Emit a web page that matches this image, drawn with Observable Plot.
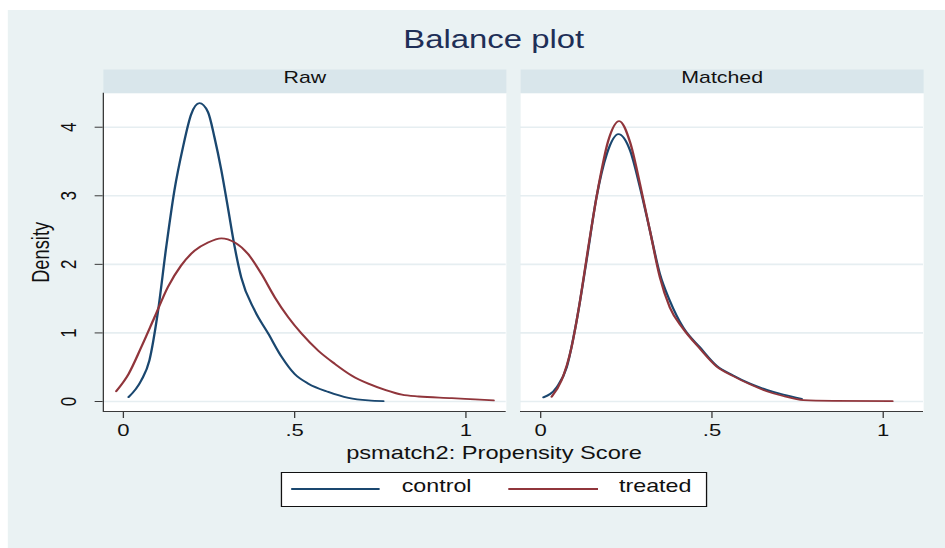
<!DOCTYPE html>
<html>
<head>
<meta charset="utf-8">
<script src="https://cdn.jsdelivr.net/npm/d3@7"></script>
<script src="https://cdn.jsdelivr.net/npm/@observablehq/plot@0.6"></script>
<style>
  html, body { margin: 0; padding: 0; background: #ffffff; overflow: hidden; }
  body { width: 945px; height: 548px; position: relative; font-family: "Liberation Sans", Arial, Helvetica, sans-serif; }
  #fig { position: absolute; left: 0; top: 0; width: 727px; height: 548px; transform: scaleX(1.3); transform-origin: 0 0; }
  #bg { position: absolute; left: 6.2px; top: 10px; right: 0; bottom: 0; background: #EAF2F3; }
  #title { position: absolute; left: 179.8px; width: 400px; top: 26.9px; text-align: center; font-size: 25.3px; line-height: 25.3px; color: #1E2F57; white-space: nowrap; }
  #chart { position: absolute; left: 0; top: 60px; }
  #xtitle { position: absolute; left: 180px; width: 400px; top: 444.1px; text-align: center; font-size: 18.2px; line-height: 18.2px; color: #111; white-space: nowrap; }
  #legend { position: absolute; left: 215.9px; top: 472.3px; width: 326.2px; height: 32.4px; border: 1px solid #111; background: #ffffff; }
  #legend .sw { position: absolute; top: 14.9px; height: 1.6px; }
  #legend .lb { position: absolute; top: 4.3px; font-size: 17.9px; line-height: 17.9px; color: #111; white-space: nowrap; }
</style>
</head>
<body>
<div id="fig">
  <div id="bg"></div>
  <div id="title">Balance plot</div>
  <div id="chart"></div>
  <div id="xtitle">psmatch2: Propensity Score</div>
  <div id="legend"></div>
</div>
<script>
// ---- data ----
const panels = ["Raw", "Matched"];
const groups = ["control", "treated"];
const groupColors = ["#1A476F", "#90353B"];

const rawControlX = [0.015,0.052,0.076,0.10,0.125,0.149,0.174,0.198,0.222,0.247,0.266,0.286,0.305,0.325,0.344,0.383,0.423,0.462,0.50,0.54,0.598,0.657,0.715,0.759];
const rawControlY = [0.063,0.306,0.60,1.28,2.25,3.08,3.71,4.19,4.35,4.22,3.85,3.37,2.83,2.25,1.81,1.33,0.99,0.65,0.40,0.26,0.14,0.053,0.015,0.005];

const rawTreatedX = [-0.021,0.015,0.052,0.091,0.13,0.168,0.208,0.247,0.286,0.325,0.364,0.403,0.442,0.481,0.52,0.569,0.617,0.666,0.715,0.764,0.813,0.862,0.959,1.027,1.081];
const rawTreatedY = [0.15,0.40,0.79,1.23,1.67,1.98,2.20,2.32,2.38,2.32,2.15,1.86,1.52,1.23,0.99,0.74,0.55,0.38,0.26,0.17,0.10,0.073,0.05,0.03,0.015];

const matchedControlX = [0.008,0.047,0.076,0.105,0.134,0.163,0.193,0.227,0.261,0.29,0.319,0.348,0.377,0.416,0.465,0.514,0.562,0.611,0.66,0.708,0.762];
const matchedControlY = [0.06,0.21,0.50,1.18,2.06,2.98,3.61,3.90,3.66,3.12,2.49,1.86,1.47,1.08,0.79,0.52,0.38,0.26,0.17,0.10,0.04];

const matchedTreatedX = [0.032,0.061,0.09,0.115,0.139,0.168,0.197,0.229,0.261,0.29,0.319,0.348,0.377,0.416,0.465,0.514,0.562,0.611,0.66,0.708,0.767,0.855,1.027];
const matchedTreatedY = [0.07,0.31,0.79,1.47,2.25,3.12,3.80,4.09,3.78,3.17,2.49,1.81,1.37,1.06,0.77,0.51,0.37,0.25,0.15,0.08,0.02,0.01,0.005];

const xTicks = [0, 0.5, 1];
const xTickLabels = ["0", ".5", "1"];
const yTicks = [0, 1, 2, 3, 4];
const yTickLabels = ["0", "1", "2", "3", "4"];
const xDomain = [-0.0585, 1.118];
const yDomain = [-0.146, 4.496];

// ---- build long table ----
function series(panel, group, xs, ys) {
  return xs.map((x, i) => ({panel, group, x, y: ys[i]}));
}
const rows = [
  ...series("Raw", "control", rawControlX, rawControlY),
  ...series("Raw", "treated", rawTreatedX, rawTreatedY),
  ...series("Matched", "control", matchedControlX, matchedControlY),
  ...series("Matched", "treated", matchedTreatedX, matchedTreatedY)
];

const W = 727, H = 385, mT = 32.7, mB = 34, mL = 78.7, mR = 17.1;
const frameH = H - mT - mB;
const headerH = 23.7;

const chart = Plot.plot({
  width: W, height: H,
  marginLeft: mL, marginRight: mR, marginTop: mT, marginBottom: mB,
  style: {background: "transparent", fontFamily: "'Liberation Sans', Arial, Helvetica, sans-serif", color: "#111"},
  fx: {domain: panels, paddingInner: 0.0358, paddingOuter: 0, axis: null, label: null},
  x: {domain: xDomain, label: null},
  y: {domain: yDomain, label: null},
  color: {domain: groups, range: groupColors},
  marks: [
    Plot.frame({fill: "#ffffff", stroke: null}),
    Plot.frame({fill: "#D9E6EB", stroke: null, insetTop: -headerH, insetBottom: frameH}),
    Plot.gridY(yTicks, {stroke: "#E6EEF1", strokeOpacity: 1, strokeWidth: 1.6}),
    Plot.line(rows, {x: "x", y: "y", z: "group", stroke: "group", fx: "panel", curve: "monotone-x", strokeWidth: 1.8}),
    Plot.ruleY([yDomain[0]], {stroke: "#3a3a3a", strokeWidth: 1}),
    Plot.ruleX([xDomain[0]], {fx: () => "Raw", stroke: "#3a3a3a", strokeWidth: 1}),
    Plot.axisX({ticks: xTicks, tickFormat: d => xTickLabels[xTicks.indexOf(d)], tickSize: 7, tickPadding: 5, fontSize: 17, stroke: "#3a3a3a", fill: "#111", label: null}),
    Plot.axisY({ticks: yTicks, tickFormat: d => yTickLabels[yTicks.indexOf(d)], tickSize: 6.2, tickPadding: 20, tickRotate: -90, textAnchor: "middle", lineAnchor: "middle", fontSize: 17, stroke: "#3a3a3a", fill: "#111", label: null}),
    Plot.text(panels, {fx: d => d, text: d => d, frameAnchor: "top", dy: -21.6, fontSize: 16.4, fill: "#111"}),
    Plot.text(["Density"], {fx: () => "Raw", text: d => d, frameAnchor: "left", textAnchor: "middle", dx: -47.9, rotate: -90, fontSize: 18.3, fill: "#111"})
  ]
});
document.getElementById("chart").appendChild(chart);

// ---- legend ----
const legend = document.getElementById("legend");
const legendLayout = [
  {sw: 6.7, swW: 68.7, lb: 92.1},
  {sw: 174.6, swW: 68.5, lb: 259.3}
];
groups.forEach((g, i) => {
  const s = document.createElement("div");
  s.className = "sw";
  s.style.left = legendLayout[i].sw + "px";
  s.style.width = legendLayout[i].swW + "px";
  s.style.background = groupColors[i];
  legend.appendChild(s);
  const t = document.createElement("div");
  t.className = "lb";
  t.style.left = legendLayout[i].lb + "px";
  t.textContent = g;
  legend.appendChild(t);
});
</script>
</body>
</html>
